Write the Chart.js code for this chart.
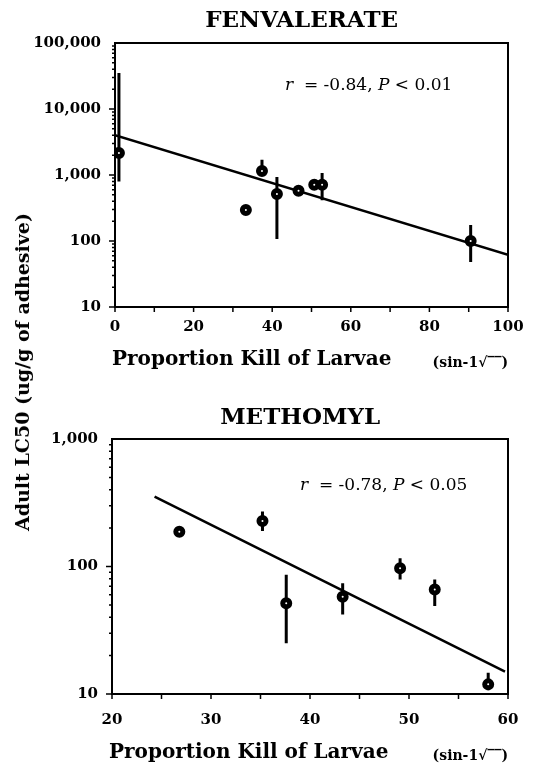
<!DOCTYPE html>
<html>
<head>
<meta charset="utf-8">
<script src="https://cdn.jsdelivr.net/npm/chart.js@4.4.1/dist/chart.umd.min.js"></script>
<style>
  body { margin: 0; background: #fff; }
  #wrap { position: relative; width: 542px; height: 767px; }
  #wrap canvas { position: absolute; left: 0; }
  #ylab {
    position: absolute; left: 22px; top: 372px;
    transform: translate(-50%, -50%) rotate(-90deg);
    font: bold 19px "DejaVu Serif"; white-space: nowrap; color: #000;
  }
</style>
</head>
<body>
<div id="wrap">
  <canvas id="fenChart" width="542" height="380" style="top:0"></canvas>
  <canvas id="metChart" width="542" height="387" style="top:380px"></canvas>
  <div id="ylab">Adult LC50 (ug/g of adhesive)</div>
</div>
<script>
// Fenvalerate panel
const fenX    = [1, 37.4, 33.3, 41.2, 46.7, 50.7, 52.7, 90.5];
const fenY    = [2150, 1150, 295, 515, 575, 710, 710, 100];
const fenLow  = [800, 1000, 295, 107, 575, 710, 415, 48];
const fenHigh = [35000, 1700, 295, 930, 575, 710, 1070, 175];
const fenFitX = [0, 100];
const fenFitY = [4000, 62];
const fenXTicks = [0, 20, 40, 60, 80, 100];
const fenXMarks = [0, 10, 20, 30, 40, 50, 60, 70, 80, 90, 100];
const fenYTicks = [10, 100, 1000, 10000, 100000];
const fenYLabels = ['10', '100', '1,000', '10,000', '100,000'];

// Methomyl panel
const metX    = [26.8, 35.2, 37.6, 43.3, 49.1, 52.6, 58.0];
const metY    = [187, 227, 51.5, 58, 97, 66, 11.9];
const metLow  = [187, 190, 25, 42, 79, 49, 10.7];
const metHigh = [187, 270, 86, 74, 116, 79, 14.7];
const metFitX = [24.3, 59.7];
const metFitY = [353, 15];
const metXTicks = [20, 30, 40, 50, 60];
const metXMarks = [20, 25, 30, 35, 40, 45, 50, 55, 60];
const metYTicks = [10, 100, 1000];
const metYLabels = ['10', '100', '1,000'];

const SERIF = '"DejaVu Serif", "Liberation Serif", serif';

// frame, outward tick marks, error bars and the texts round the plot
function panelPlugin(cfg) {
  return {
    id: 'panel',
    beforeDatasetsDraw(chart) {
      const { ctx, chartArea: a, scales: { x, y } } = chart;
      ctx.save();
      ctx.strokeStyle = '#000';
      ctx.lineWidth = 2;
      ctx.strokeRect(a.left, a.top, a.right - a.left, a.bottom - a.top);

      ctx.lineWidth = 1.5;
      ctx.beginPath();
      cfg.xMarks.forEach(v => {
        const px = x.getPixelForValue(v);
        ctx.moveTo(px, a.bottom);
        ctx.lineTo(px, a.bottom + 5);
      });
      // log minor ticks on the y axis
      for (let d = cfg.yTicks[0]; d < cfg.yTicks[cfg.yTicks.length - 1]; d *= 10) {
        for (let k = 1; k < 10; k++) {
          const py = y.getPixelForValue(k * d);
          ctx.moveTo(a.left, py);
          ctx.lineTo(a.left - (k === 1 ? 6 : 3), py);
        }
      }
      ctx.stroke();

      ctx.lineWidth = 3;
      ctx.beginPath();
      cfg.xs.forEach((xv, i) => {
        if (cfg.low[i] === cfg.high[i]) return;
        const px = x.getPixelForValue(xv);
        ctx.moveTo(px, y.getPixelForValue(cfg.low[i]));
        ctx.lineTo(px, y.getPixelForValue(cfg.high[i]));
      });
      ctx.stroke();
      ctx.restore();
    },
    afterDraw(chart) {
      const { ctx, chartArea: a } = chart;
      ctx.save();
      ctx.fillStyle = '#000';
      ctx.textBaseline = 'middle';

      ctx.font = 'bold 23px ' + SERIF;
      ctx.textAlign = 'center';
      ctx.fillText(cfg.title, a.left + (a.right - a.left) * 0.475, cfg.titleY);

      ctx.textAlign = 'left';
      ctx.font = 'bold 20px ' + SERIF;
      ctx.fillText('Proportion Kill of Larvae', a.left - 3, a.bottom + cfg.axisTitleDy);
      ctx.font = 'bold 14px ' + SERIF;
      ctx.textAlign = 'right';
      ctx.fillText('(sin-1\u221A\u203E\u203E)', a.right, a.bottom + cfg.axisTitleDy + 3);

      // r / P annotation
      ctx.textAlign = 'left';
      let tx = a.left + cfg.noteDx;
      const ty = a.top + cfg.noteDy;
      const parts = [
        ['italic 17px ', 'r'], ['17px ', '  = ' + cfg.r + ', '],
        ['italic 17px ', 'P'], ['17px ', ' < ' + cfg.p]
      ];
      parts.forEach(([f, s]) => {
        ctx.font = f + SERIF;
        ctx.fillText(s, tx, ty);
        tx += ctx.measureText(s).width;
      });
      ctx.restore();
    }
  };
}

function makeChart(id, d) {
  const pts = d.xs.map((v, i) => ({ x: v, y: d.ys[i] }));
  const fit = d.fitX.map((v, i) => ({ x: v, y: d.fitY[i] }));
  const tickFont = { family: SERIF, size: 15, weight: 'bold' };
  new Chart(document.getElementById(id), {
    type: 'scatter',
    data: {
      datasets: [
        {
          type: 'line', data: fit, borderColor: '#000', borderWidth: 2.5,
          pointRadius: 0, fill: false, tension: 0, order: 2
        },
        {
          data: pts, pointRadius: 3.5, pointBorderWidth: 5,
          borderColor: '#000', backgroundColor: '#fff', order: 1
        }
      ]
    },
    options: {
      responsive: false,
      animation: false,
      events: [],
      layout: { padding: { top: d.top, right: 34, left: 0, bottom: 0 } },
      plugins: { legend: { display: false }, tooltip: { enabled: false } },
      scales: {
        x: {
          type: 'linear', min: d.xMin, max: d.xMax,
          grid: { display: false, drawTicks: false }, border: { display: false },
          afterBuildTicks: s => { s.ticks = d.xTicks.map(v => ({ value: v })); },
          afterFit: s => { s.height = 73; },
          ticks: { font: tickFont, color: '#000', padding: d.xPad, maxRotation: 0, autoSkip: false }
        },
        y: {
          type: 'logarithmic', min: d.yTicks[0], max: d.yTicks[d.yTicks.length - 1],
          grid: { display: false, drawTicks: false }, border: { display: false },
          afterBuildTicks: s => { s.ticks = d.yTicks.map(v => ({ value: v })); },
          afterFit: s => { s.width = d.left; },
          ticks: {
            font: tickFont, color: '#000', padding: 14, autoSkip: false,
            callback: (v, i) => d.yLabels[i]
          }
        }
      }
    },
    plugins: [panelPlugin(d)]
  });
}

makeChart('fenChart', {
  title: 'FENVALERATE', titleY: 21, top: 43, left: 115, xPad: 11, axisTitleDy: 53,
  xs: fenX, ys: fenY, low: fenLow, high: fenHigh, fitX: fenFitX, fitY: fenFitY,
  xMin: 0, xMax: 100, xTicks: fenXTicks, xMarks: fenXMarks,
  yTicks: fenYTicks, yLabels: fenYLabels,
  r: '-0.84', p: '0.01', noteDx: 170, noteDy: 43
});

makeChart('metChart', {
  title: 'METHOMYL', titleY: 38, top: 59, left: 112, xPad: 17, axisTitleDy: 59,
  xs: metX, ys: metY, low: metLow, high: metHigh, fitX: metFitX, fitY: metFitY,
  xMin: 20, xMax: 60, xTicks: metXTicks, xMarks: metXMarks,
  yTicks: metYTicks, yLabels: metYLabels,
  r: '-0.78', p: '0.05', noteDx: 188, noteDy: 47
});
</script>
</body>
</html>
